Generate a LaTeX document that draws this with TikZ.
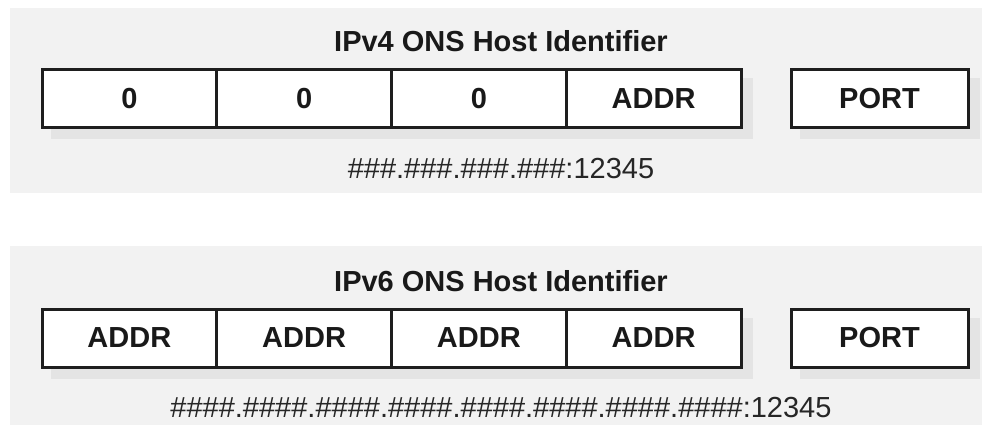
\documentclass[tikz,border=0pt]{standalone}
\usepackage{fontspec}
\setmainfont{Liberation Sans}
\definecolor{panel}{HTML}{F2F2F2}
\definecolor{shade}{HTML}{E4E4E4}
\definecolor{edge}{HTML}{1E1E1E}
\pgfdeclarelayer{bg}
\pgfsetlayers{bg,main}
\begin{document}
\begin{tikzpicture}[x=1pt,y=-1pt,
  cell/.style={draw=edge, line width=3pt, fill=white, minimum width=174.75pt, minimum height=58pt, inner sep=0pt, font=\fontsize{29}{34}\selectfont\bfseries, text=black!90},
  portcell/.style={cell, minimum width=177pt},
  title/.style={font=\fontsize{29}{34}\selectfont\bfseries, inner sep=0pt, anchor=base, text=black!90},
  fmt/.style={font=\fontsize{29}{34}\selectfont, inner sep=0pt, anchor=base, text=black!85},
  panelbox/.style={fill=panel},
  shadowbox/.style={fill=shade}]
\useasboundingbox (0,0) rectangle (982,425);

% IPv4
\node[title] (t4) at (501,52) {IPv4 ONS Host Identifier};
\node[cell] (a1) at (129.375,99) {0};
\node[cell] (a2) at (304.125,99) {0};
\node[cell] (a3) at (478.875,99) {0};
\node[cell] (a4) at (653.625,99) {ADDR};
\node[portcell] (ap) at (879.5,99) {PORT};
\node[fmt] (f4) at (501,178) {\#\#\#.\#\#\#.\#\#\#.\#\#\#:12345};

% IPv6
\node[title] (t6) at (501,291) {IPv6 ONS Host Identifier};
\node[cell] (b1) at (129.375,338) {ADDR};
\node[cell] (b2) at (304.125,338) {ADDR};
\node[cell] (b3) at (478.875,338) {ADDR};
\node[cell] (b4) at (653.625,338) {ADDR};
\node[portcell] (bp) at (879.5,338) {PORT};
\node[fmt] (f6) at (501,417) {\#\#\#\#.\#\#\#\#.\#\#\#\#.\#\#\#\#.\#\#\#\#.\#\#\#\#.\#\#\#\#.\#\#\#\#:12345};

\begin{pgfonlayer}{bg}
  \fill[panelbox] (10,8) rectangle (982,193);
  \fill[panelbox] (10,246) rectangle (982,425);
  \fill[shadowbox] ([shift={(10,10)}]a1.north west) rectangle ([shift={(10,10)}]a4.south east);
  \fill[shadowbox] ([shift={(10,10)}]ap.north west) rectangle ([shift={(10,10)}]ap.south east);
  \fill[shadowbox] ([shift={(10,10)}]b1.north west) rectangle ([shift={(10,10)}]b4.south east);
  \fill[shadowbox] ([shift={(10,10)}]bp.north west) rectangle ([shift={(10,10)}]bp.south east);
\end{pgfonlayer}
\end{tikzpicture}
\end{document}
